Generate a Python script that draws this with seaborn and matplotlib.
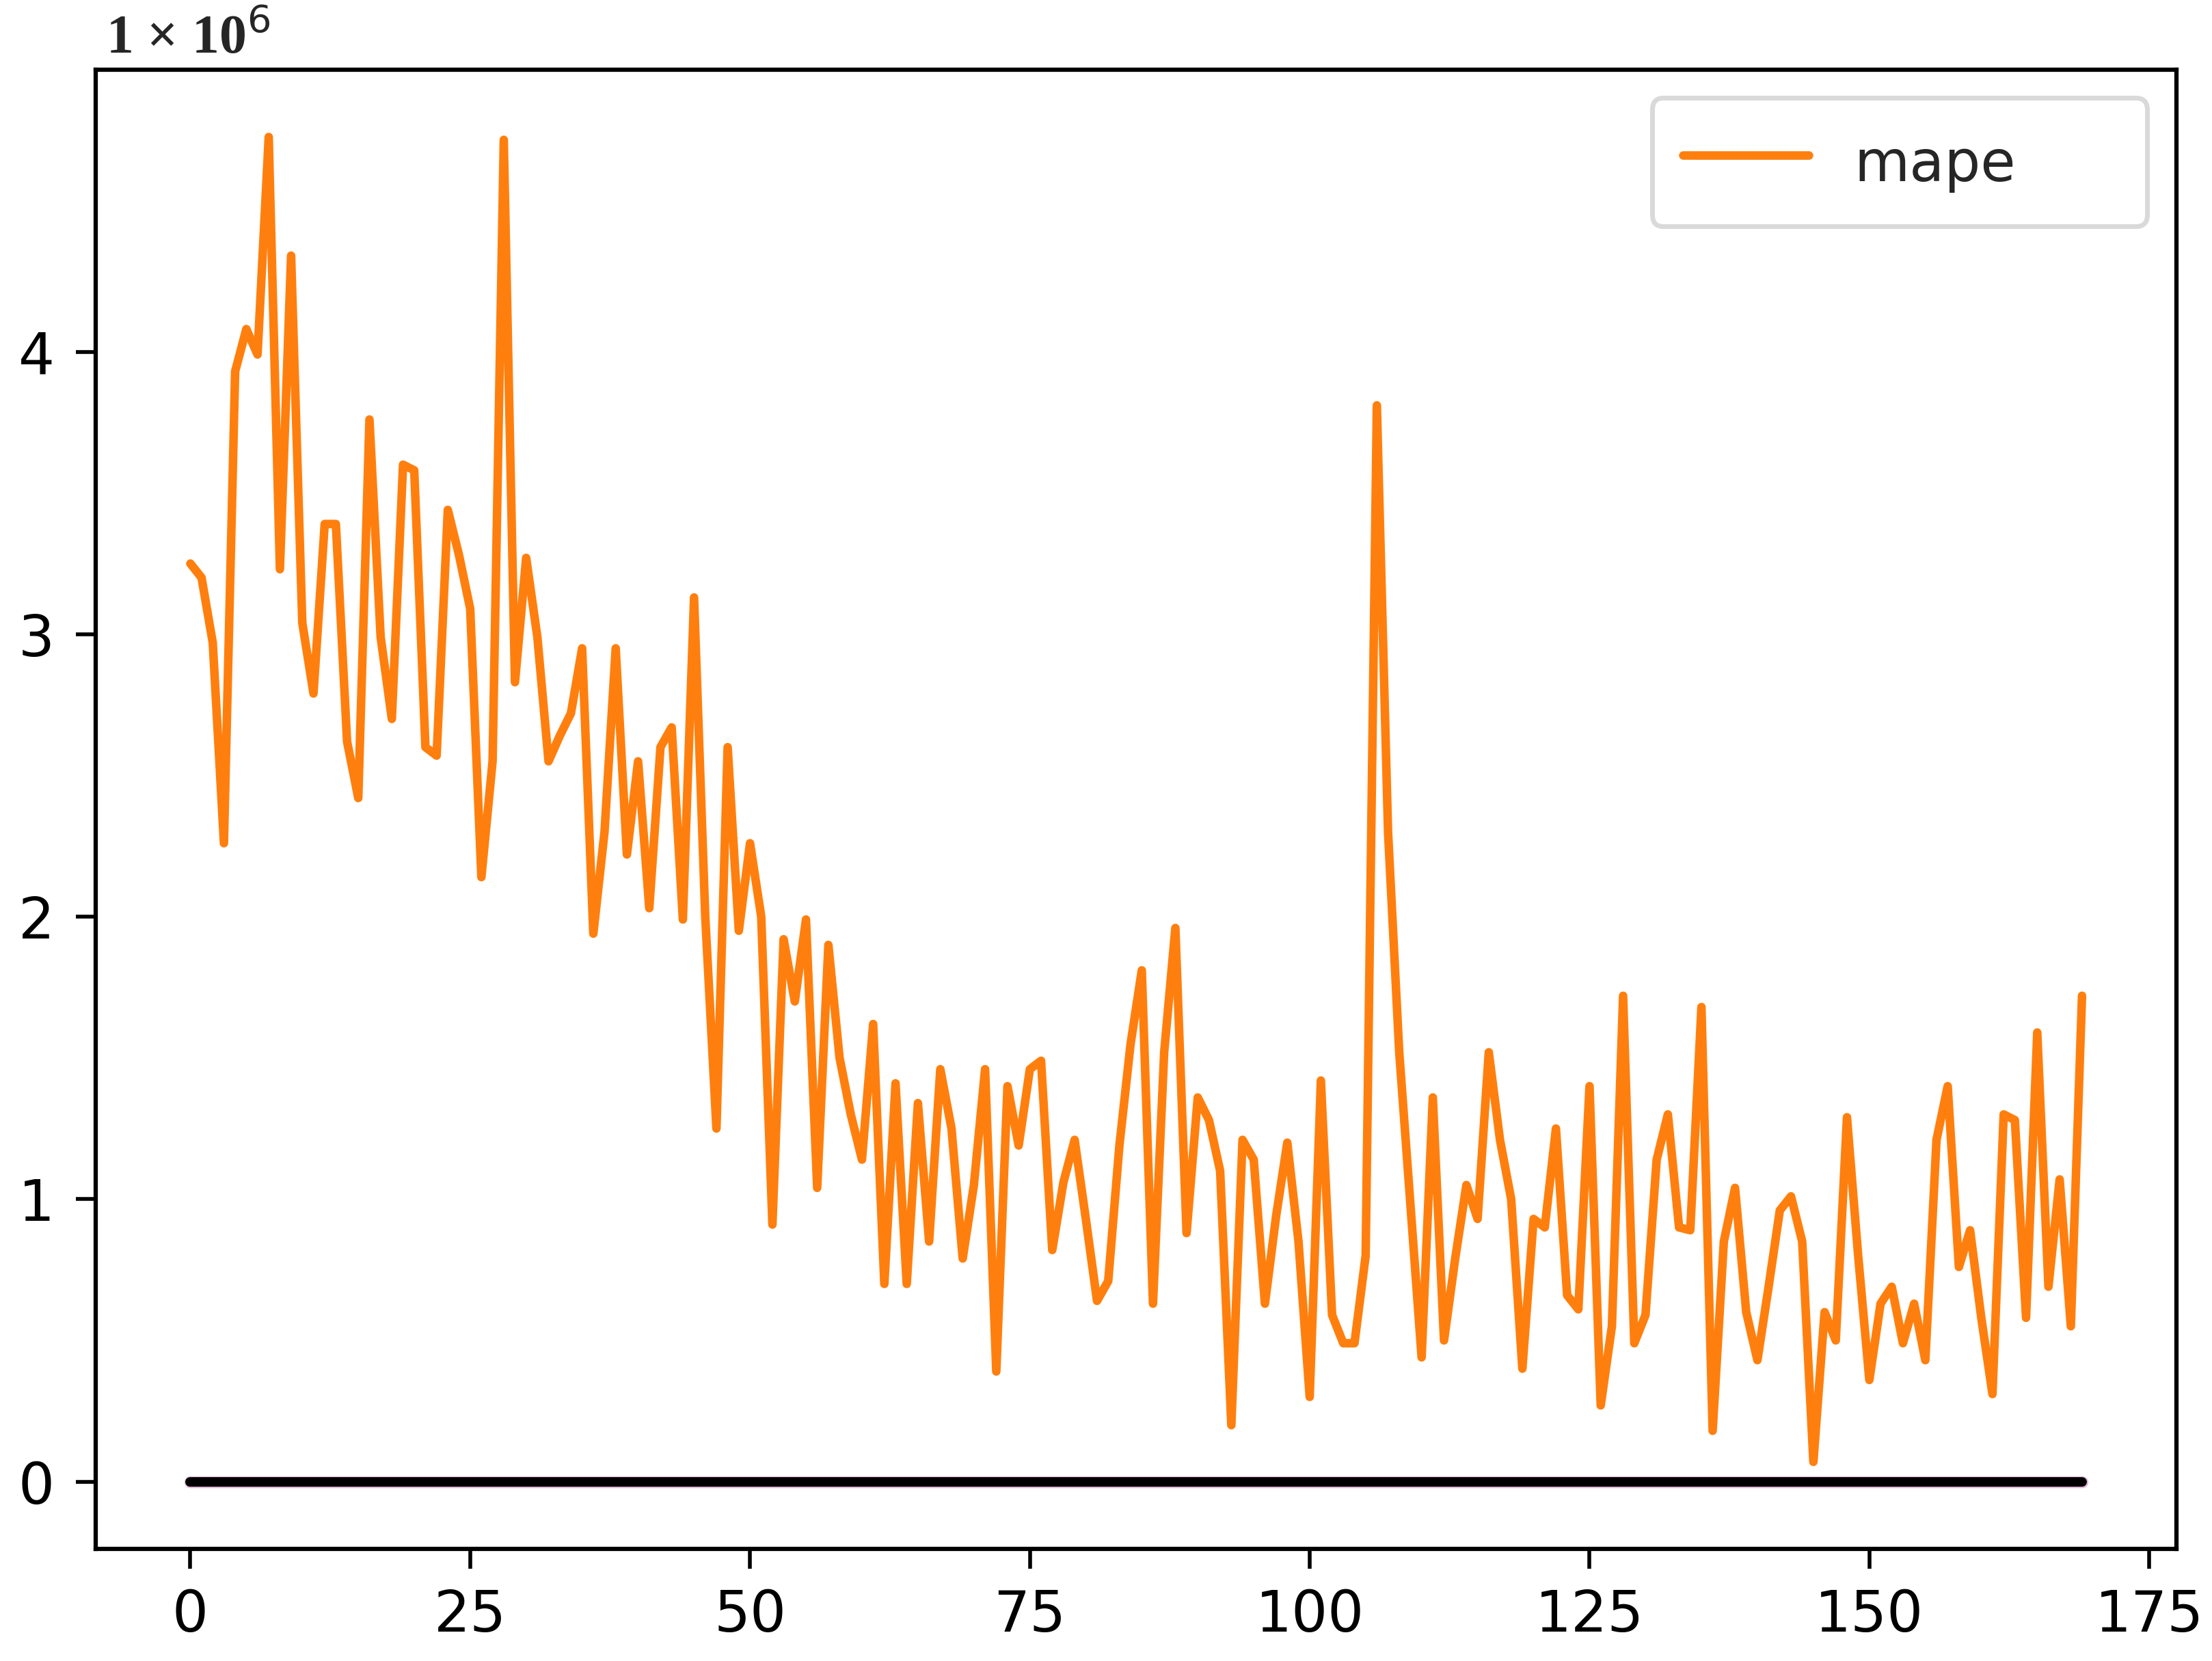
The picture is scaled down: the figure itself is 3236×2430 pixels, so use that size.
import numpy as np
import pandas as pd
import matplotlib
matplotlib.use("Agg")
import matplotlib.pyplot as plt
import seaborn as sns

# MAPE per epoch, in units of 1e6
mape_millions = [
    3.25, 3.20, 2.97, 2.26, 3.93, 4.08, 3.99, 4.76, 3.23, 4.34,
    3.04, 2.79, 3.39, 3.39, 2.62, 2.42, 3.76, 2.99, 2.70, 3.60,
    3.58, 2.60, 2.57, 3.44, 3.28, 3.09, 2.14, 2.55, 4.75, 2.83,
    3.27, 2.99, 2.55, 2.64, 2.72, 2.95, 1.94, 2.30, 2.95, 2.22,
    2.55, 2.03, 2.60, 2.67, 1.99, 3.13, 2.00, 1.25, 2.60, 1.95,
    2.26, 2.00, 0.91, 1.92, 1.70, 1.99, 1.04, 1.90, 1.50, 1.30,
    1.14, 1.62, 0.70, 1.41, 0.70, 1.34, 0.85, 1.46, 1.25, 0.79,
    1.05, 1.46, 0.39, 1.40, 1.19, 1.46, 1.49, 0.82, 1.06, 1.21,
    0.93, 0.64, 0.71, 1.19, 1.55, 1.81, 0.63, 1.52, 1.96, 0.88,
    1.36, 1.28, 1.10, 0.20, 1.21, 1.14, 0.63, 0.94, 1.20, 0.85,
    0.30, 1.42, 0.59, 0.49, 0.49, 0.80, 3.81, 2.30, 1.52, 0.98,
    0.44, 1.36, 0.50, 0.79, 1.05, 0.93, 1.52, 1.21, 1.00, 0.40,
    0.93, 0.90, 1.25, 0.66, 0.61, 1.40, 0.27, 0.55, 1.72, 0.49,
    0.59, 1.14, 1.30, 0.90, 0.89, 1.68, 0.18, 0.85, 1.04, 0.60,
    0.43, 0.69, 0.96, 1.01, 0.85, 0.07, 0.60, 0.50, 1.29, 0.80,
    0.36, 0.63, 0.69, 0.49, 0.63, 0.43, 1.21, 1.40, 0.76, 0.89,
    0.58, 0.31, 1.30, 1.28, 0.58, 1.59, 0.69, 1.07, 0.55, 1.72,
]
# other metrics, near zero on this scale
other_metric = [0.0] * len(mape_millions)
epochs = list(range(len(mape_millions)))

x_ticks = [0, 25, 50, 75, 100, 125, 150, 175]
y_ticks = [0, 1, 2, 3, 4]

df = pd.DataFrame({"epoch": epochs, "mape": mape_millions, "other": other_metric})

sns.set_theme(style="ticks")
plt.rcParams["font.family"] = ["DejaVu Sans"]

fig = plt.figure(figsize=(3236 / 500, 2430 / 500), dpi=500)
ax = fig.add_axes([0.0433, 0.0675, 0.9407, 0.8905])

sns.lineplot(data=df, x="epoch", y="mape", ax=ax, color="#ff7f0e",
             linewidth=1.8, label="mape")
sns.lineplot(data=df, x="epoch", y="other", ax=ax, color="#e0b8d6",
             linewidth=2.5, legend=False, solid_capstyle="round")
sns.lineplot(data=df, x="epoch", y="other", ax=ax, color="black",
             linewidth=2.0, legend=False, solid_capstyle="round")

ax.set_xlim(-8.45, 177.45)
ax.set_ylim(-0.238, 4.998)
ax.set_xticks(x_ticks)
ax.set_yticks(y_ticks)
ax.set_xlabel("")
ax.set_ylabel("")
for s in ax.spines.values():
    s.set_visible(True)
    s.set_color("black")
    s.set_linewidth(0.9)
ax.tick_params(axis="both", labelsize=12, length=4.2, width=0.8,
               direction="out", colors="black")
ax.tick_params(axis="y", pad=4.5)
ax.tick_params(axis="x", pad=4.0)
ax.set_facecolor("white")

leg = ax.legend(loc="upper left", bbox_to_anchor=(0.7478, 0.0, 0.238, 0.981),
                mode="expand", fontsize=12, frameon=True,
                handlelength=2.2, handleheight=1.4, borderpad=0.55,
                borderaxespad=0.0)
leg.get_frame().set_edgecolor("#d0d0d0")
leg.get_frame().set_alpha(0.8)

fig.text(0.048, 0.968, r"1 × 10$^{6}$", fontsize=11.5,
         family=["Liberation Serif", "DejaVu Serif"], weight="bold",
         ha="left", va="baseline")

fig.savefig("out.png", dpi=500, facecolor="white")
